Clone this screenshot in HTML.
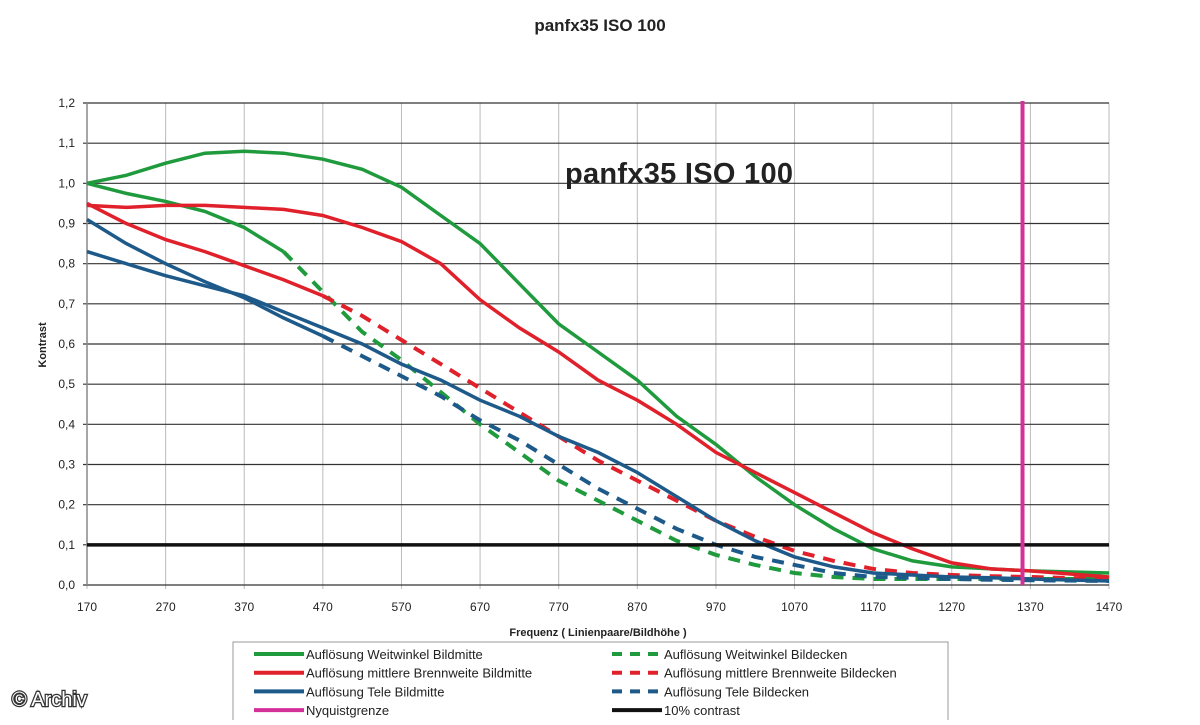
<!DOCTYPE html>
<html><head><meta charset="utf-8"><style>
body{margin:0;background:#fff;width:1200px;height:720px;overflow:hidden;font-family:"Liberation Sans",sans-serif}
</style></head><body>
<svg id="chart" width="1200" height="720" xmlns="http://www.w3.org/2000/svg" font-family="Liberation Sans, sans-serif">
<text x="600" y="31" text-anchor="middle" font-size="17" font-weight="bold" fill="#222">panfx35 ISO 100</text>
<g id="grid"></g>
<g id="series"></g>
<text x="565" y="183" font-size="29" font-weight="bold" fill="#222" textLength="228">panfx35 ISO 100</text>
<text transform="translate(46,345) rotate(-90)" text-anchor="middle" font-size="11" font-weight="bold" fill="#222">Kontrast</text>
<text x="598" y="636" text-anchor="middle" font-size="11" font-weight="bold" fill="#222">Frequenz ( Linienpaare/Bildhöhe )</text>
<g id="legend">
<rect x="233" y="642" width="715" height="80" fill="#fff" stroke="#999" stroke-width="1"/>
</g>
<text x="12" y="706" font-size="20" fill="#fff" stroke="#333" stroke-width="2.5" paint-order="stroke">© Archiv</text>
</svg>
<script>
const freqs=[170,220,270,320,370,420,470,520,570,620,670,720,770,820,870,920,970,1020,1070,1120,1170,1220,1270,1320,1370,1470];
const wwMitte=[1.0,1.02,1.05,1.075,1.08,1.075,1.06,1.035,0.99,0.92,0.85,0.75,0.65,0.58,0.51,0.42,0.35,0.27,0.2,0.14,0.09,0.06,0.045,0.04,0.035,0.03];
const wwEcken=[1.0,0.975,0.955,0.93,0.89,0.83,0.73,0.63,0.56,0.48,0.4,0.33,0.26,0.21,0.16,0.11,0.075,0.05,0.03,0.02,0.015,0.015,0.015,0.015,0.015,0.015];
const mbMitte=[0.945,0.94,0.945,0.945,0.94,0.935,0.92,0.89,0.855,0.8,0.71,0.64,0.58,0.51,0.46,0.4,0.33,0.28,0.23,0.18,0.13,0.09,0.055,0.04,0.035,0.02];
const mbEcken=[0.95,0.9,0.86,0.83,0.795,0.76,0.72,0.67,0.61,0.55,0.49,0.43,0.37,0.31,0.26,0.21,0.16,0.12,0.085,0.06,0.04,0.03,0.025,0.022,0.02,0.015];
const teMitte=[0.83,0.8,0.77,0.745,0.72,0.68,0.64,0.6,0.55,0.51,0.46,0.42,0.37,0.33,0.28,0.22,0.16,0.11,0.07,0.045,0.03,0.025,0.02,0.018,0.015,0.01];
const teEcken=[0.91,0.85,0.8,0.755,0.715,0.665,0.62,0.57,0.52,0.47,0.41,0.36,0.3,0.24,0.19,0.14,0.1,0.07,0.05,0.03,0.02,0.018,0.015,0.013,0.012,0.01];
const xTicks=[170,270,370,470,570,670,770,870,970,1070,1170,1270,1370,1470];
const yTicks=[0,0.1,0.2,0.3,0.4,0.5,0.6,0.7,0.8,0.9,1.0,1.1,1.2];
const nyquist=1360, tenPct=0.1;
const X0=87,X1=1109,Y0=585,Y1=103;
const sx=f=>X0+(f-170)/(1470-170)*(X1-X0);
const sy=v=>Y0-v/1.2*(Y0-Y1);
const NS='http://www.w3.org/2000/svg';
function mk(tag,parent,attrs){const e=document.createElementNS(NS,tag);for(const k in attrs)e.setAttribute(k,attrs[k]);parent.appendChild(e);return e;}
const grid=document.getElementById('grid');
xTicks.forEach(f=>{
 const l=mk('line',grid,{x1:sx(f),x2:sx(f),y1:Y1,y2:Y0+4,stroke:'#bbb','stroke-width':1});
 
 
 const t=mk('text',grid,{x:sx(f),y:Y0+26,'text-anchor':'middle','font-size':12,fill:'#222'});
 t.textContent=f;
 
 
});
yTicks.forEach(v=>{
 const l=mk('line',grid,{x1:X0-4,x2:X1,y1:sy(v),y2:sy(v),stroke:'#333','stroke-width':1.2});
 
 
 const t=mk('text',grid,{x:X0-12,y:sy(v)+4,'text-anchor':'end','font-size':12,fill:'#222'});
 t.textContent=v.toFixed(1).replace('.',',');
 
 
});
const ax=mk('line',grid,{x1:X0,x2:X0,y1:Y1,y2:Y0,stroke:'#888','stroke-width':1.5});


const sg=document.getElementById('series');
function path(vals,from,to){let d='';for(let i=from;i<=to;i++)d+=(i==from?'M':'L')+sx(freqs[i]).toFixed(1)+','+sy(vals[i]).toFixed(1);return d;}
const defs=[
 {v:wwEcken,c:'#1f9a3c',dash:true,solidTo:5,name:'ww-bildecken-line'},
 {v:mbEcken,c:'#e0202a',dash:true,solidTo:6,name:'mb-bildecken-line'},
 {v:teEcken,c:'#1d5a8a',dash:true,solidTo:6,name:'tele-bildecken-line'},
 {v:wwMitte,c:'#1f9a3c',dash:false,name:'ww-bildmitte-line'},
 {v:mbMitte,c:'#e0202a',dash:false,name:'mb-bildmitte-line'},
 {v:teMitte,c:'#1d5a8a',dash:false,name:'tele-bildmitte-line'}];
defs.forEach(s=>{
 const n=freqs.length-1;
 if(s.dash){
  const a=mk('path',sg,{d:path(s.v,0,s.solidTo),fill:'none',stroke:s.c,'stroke-width':3.5});
  
  
  const b=mk('path',sg,{d:path(s.v,s.solidTo,n),fill:'none',stroke:s.c,'stroke-width':4,'stroke-dasharray':'12,9'});
  
  
 }else{
  const a=mk('path',sg,{d:path(s.v,0,n),fill:'none',stroke:s.c,'stroke-width':3.5});
  
  
 }
});
const tl=mk('line',sg,{x1:X0,x2:X1,y1:sy(tenPct),y2:sy(tenPct),stroke:'#111','stroke-width':3.5});


const ny=mk('line',sg,{x1:sx(nyquist),x2:sx(nyquist),y1:Y1-2,y2:Y0,stroke:'#d4309a','stroke-width':4});


const lg=document.getElementById('legend');
const items=[
 ['Auflösung Weitwinkel Bildmitte','#1f9a3c',false,0,0],['Auflösung Weitwinkel Bildecken','#1f9a3c',true,1,0],
 ['Auflösung mittlere Brennweite Bildmitte','#e0202a',false,0,1],['Auflösung mittlere Brennweite Bildecken','#e0202a',true,1,1],
 ['Auflösung Tele Bildmitte','#1d5a8a',false,0,2],['Auflösung Tele Bildecken','#1d5a8a',true,1,2],
 ['Nyquistgrenze','#d4309a',false,0,3],['10% contrast','#111',false,1,3]];
items.forEach(it=>{
 const lx=it[3]?612:254, ly=654+it[4]*18.7;
 const l=mk('line',lg,{x1:lx,x2:lx+50,y1:ly,y2:ly,stroke:it[1],'stroke-width':4});
 if(it[2])l.setAttribute('stroke-dasharray','10,8');
 
 
 const t=mk('text',lg,{x:lx+52,y:ly+5,'font-size':13,fill:'#222'});
 t.textContent=it[0];
 
 
});
</script>
</body></html>
